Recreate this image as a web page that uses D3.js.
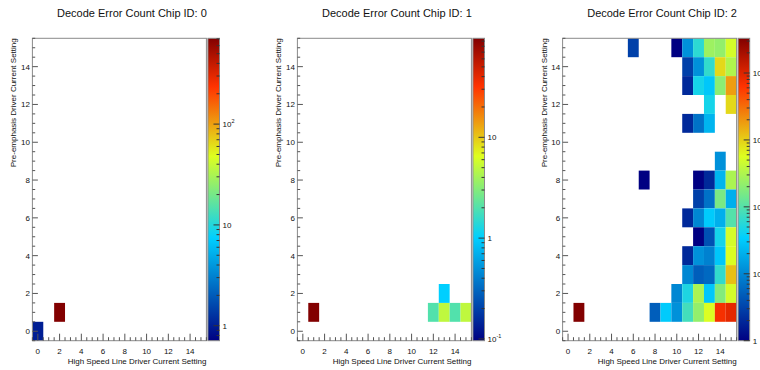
<!DOCTYPE html>
<html><head><meta charset="utf-8">
<script src="https://cdn.jsdelivr.net/npm/d3@7"></script>
<style>
html,body{margin:0;padding:0;background:#fff;overflow:hidden}
text{font-family:"Liberation Sans",Arial,Helvetica,sans-serif;fill:#111}
</style></head>
<body>
<svg id="chart" width="760" height="370"></svg>
<script>
// ---- data ----
const chipTitles = ["Decode Error Count Chip ID: 0","Decode Error Count Chip ID: 1","Decode Error Count Chip ID: 2"];
const xTitle = "High Speed Line Driver Current Setting";
const yTitle = "Pre-emphasis Driver Current Setting";
const axisTicks = [0,2,4,6,8,10,12,14];
// cells: [high speed setting, pre-emphasis setting, error count]
const chip0Cells = [[0,0,1],[2,1,710]];
const chip1Cells = [[1,1,96],[12,1,2],[13,1,5],[14,1,2],[15,1,5],[13,2,1]];
const chip2Cells = [
  [6,15,3],[10,15,1],[11,15,12],[12,15,60],[13,15,250],[14,15,220],[15,15,500],
  [11,14,3],[12,14,12],[13,14,65],[14,14,900],[15,14,320],
  [11,13,2],[12,13,45],[13,13,30],[14,13,200],[15,13,1800],
  [13,12,45],[15,12,900],
  [11,11,2],[12,11,7],[13,11,22],
  [14,9,12],
  [7,8,1],[12,8,1],[13,8,2],[14,8,22],[15,8,300],
  [12,7,3],[13,7,7],[14,7,160],[15,7,20],
  [11,6,2],[12,6,10],[13,6,32],[14,6,20],[15,6,100],
  [12,5,1],[13,5,4],[14,5,45],[15,5,500],
  [11,4,2],[12,4,12],[13,4,9],[14,4,30],[15,4,550],
  [11,3,10],[12,3,5],[13,3,6],[14,3,65],[15,3,1200],
  [10,2,10],[11,2,50],[12,2,300],[13,2,30],[14,2,180],[15,2,500],
  [1,1,33000],[8,1,5],[9,1,32],[10,1,12],[11,1,80],[12,1,220],[13,1,550],[14,1,7000],[15,1,9000]
];
const chipCells = [chip0Cells, chip1Cells, chip2Cells];
// palette stops
const paletteStops = [0, 0.34, 0.61, 0.84, 1];
const paletteColors = ["rgb(0,0,130)","rgb(0,207,255)","rgb(222,255,31)","rgb(255,51,0)","rgb(130,0,0)"];

// ---- layout ----
const frameLefts = [32.4, 297.4, 562.6];
const frameW = 174, frameTop = 38.3, frameBottom = 340.7;
const barGap = 1.5, barW = 11.6;

const svg = d3.select("#chart");
const defs = svg.append("defs");
const pal = d3.scaleLinear().domain(paletteStops).range(paletteColors).interpolate(d3.interpolateRgb).clamp(true);

const grad = defs.append("linearGradient").attr("id","pal").attr("x1",0).attr("y1",1).attr("x2",0).attr("y2",0);
paletteStops.forEach((s,i)=>grad.append("stop").attr("offset",s).attr("stop-color",paletteColors[i]));

function powLabel(g, v){
  const e = Math.round(Math.log10(v));
  if (e === 0) { g.text("1"); return; }
  if (e === 1) { g.text("10"); return; }
  g.append("tspan").text("10");
  g.append("tspan").attr("font-size",5.5).attr("dy",-4).text(String(e));
}

chipCells.forEach((cells, p) => {
  const L = frameLefts[p], R = L + frameW;
  const g = svg.append("g");
  const x = d3.scaleLinear().domain([-0.5,15.5]).range([L,R]);
  const y = d3.scaleLinear().domain([-0.5,15.5]).range([frameBottom,frameTop]);
  const zmax = d3.max(cells, d=>d[2]);
  const zmin = Math.min(1, 0.001*zmax);
  const z = d3.scaleLog().domain([zmin,zmax]).range([0,1]).clamp(true);
  const zy = d3.scaleLog().domain([zmin,zmax]).range([frameBottom,frameTop]);

  // cells
  g.selectAll("rect.cell").data(cells).join("rect")
    .attr("class","cell")
    .attr("x", d=>x(d[0]-0.5)).attr("y", d=>y(d[1]+0.5))
    .attr("width", d=>x(d[0]+0.5)-x(d[0]-0.5))
    .attr("height", d=>y(d[1]-0.5)-y(d[1]+0.5))
    .attr("fill", d=>pal(z(d[2])));

  // frame
  g.append("rect").attr("x",L).attr("y",frameTop).attr("width",frameW).attr("height",frameBottom-frameTop)
    .attr("fill","none").attr("stroke","#8a8a8a").attr("stroke-width",1);

  // x ticks
  const minor = d3.range(-0.5, 15.51, 0.5);
  g.selectAll("line.xt").data(minor).join("line").attr("class","xt")
    .attr("x1",d=>x(d)).attr("x2",d=>x(d))
    .attr("y1",frameBottom).attr("y2",d=> frameBottom - (axisTicks.includes(d)?7:3.5))
    .attr("stroke","#555").attr("stroke-width",1);
  g.selectAll("line.yt").data(minor).join("line").attr("class","yt")
    .attr("y1",d=>y(d)).attr("y2",d=>y(d))
    .attr("x1",L).attr("x2",d=> L + (axisTicks.includes(d)?5.5:2.8))
    .attr("stroke","#555").attr("stroke-width",1);
  // tick labels
  g.selectAll("text.xl").data(axisTicks).join("text").attr("class","xl")
    .attr("x",d=>x(d)).attr("y",353.5).attr("text-anchor","middle").attr("font-size",8).text(d=>d);
  g.selectAll("text.yl").data(axisTicks).join("text").attr("class","yl")
    .attr("x",L-2.5).attr("y",d=>y(d)).attr("dy","0.36em").attr("text-anchor","end").attr("font-size",8).text(d=>d);
  // axis titles
  g.append("text").attr("x",R).attr("y",364).attr("text-anchor","end").attr("font-size",8).text(xTitle);
  g.append("text").attr("transform",`translate(${L-16},${frameTop}) rotate(-90)`).attr("text-anchor","end").attr("font-size",8).text(yTitle);
  // title
  g.append("text").attr("x",L+99.5).attr("y",16.5).attr("text-anchor","middle").attr("font-size",11).text(chipTitles[p]);

  // color bar
  const bx = R + barGap;
  g.append("rect").attr("x",bx).attr("y",frameTop).attr("width",barW).attr("height",frameBottom-frameTop)
    .attr("fill","url(#pal)").attr("stroke","#8a8a8a").attr("stroke-width",1);
  const e0 = Math.floor(Math.log10(zmin)), e1 = Math.ceil(Math.log10(zmax));
  const majors = [], minors = [];
  for (let e=e0; e<=e1; e++) for (let k=1; k<10; k++) {
    const v = k*Math.pow(10,e);
    if (v < zmin*0.9999 || v > zmax*1.0001) continue;
    (k===1?majors:minors).push(v);
  }
  g.selectAll("line.zt").data(majors.concat(minors)).join("line").attr("class","zt")
    .attr("y1",d=>zy(d)).attr("y2",d=>zy(d))
    .attr("x1",bx+barW).attr("x2",d=> bx+barW-(majors.includes(d)?6:3))
    .attr("stroke","#333").attr("stroke-width",1);
  g.selectAll("text.zl").data(majors).join("text").attr("class","zl")
    .attr("x",bx+barW+3).attr("y",d=>zy(d)).attr("dy","0.36em").attr("font-size",8)
    .each(function(d){ powLabel(d3.select(this), d); });
});
</script>
</body></html>
